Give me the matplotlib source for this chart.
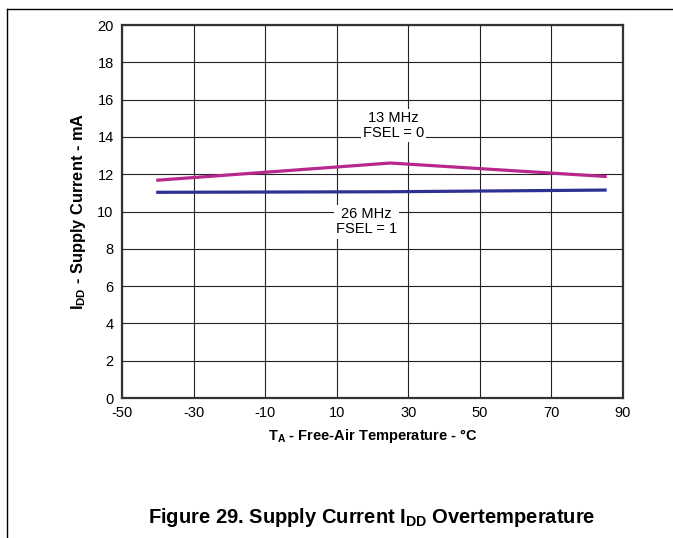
import matplotlib
matplotlib.use("Agg")
import matplotlib.pyplot as plt
from matplotlib.lines import Line2D

plt.rcParams["font.family"] = ["Liberation Sans", "DejaVu Sans"]
plt.rcParams["mathtext.fontset"] = "custom"
plt.rcParams["mathtext.rm"] = "Liberation Sans"
plt.rcParams["mathtext.bf"] = "Liberation Sans:bold"
plt.rcParams["axes.unicode_minus"] = False

# data
temp_13 = [-40, 25, 85]
idd_13 = [11.68, 12.6, 11.88]
temp_26 = [-40, 25, 85]
idd_26 = [11.03, 11.06, 11.15]
xticks = [-50, -30, -10, 10, 30, 50, 70, 90]
yticks = list(range(0, 21, 2))

fig = plt.figure(figsize=(6.73, 5.38), dpi=100)
ax = fig.add_axes([0.1813, 0.2602, 0.7444, 0.6933])

ax.plot(temp_13, idd_13, color="#B8288C", lw=2.3, zorder=3)
ax.plot(temp_26, idd_26, color="#2E3192", lw=2.3, zorder=3)

ax.set_xlim(-50, 90)
ax.set_ylim(0, 20)
ax.set_xticks(xticks)
ax.set_yticks(yticks)
ax.tick_params(length=0, labelsize=10.5, pad=6)
ax.grid(True, color="#222222", lw=0.8)
ax.set_axisbelow(True)
for s in ax.spines.values():
    s.set_linewidth(1.6)
    s.set_color("#333333")

ax.set_xlabel(r"T$_\mathbf{A}$ - Free-Air Temperature - °C", fontsize=10.5,
              fontweight="bold", labelpad=5)
ax.set_ylabel(r"I$_\mathbf{DD}$ - Supply Current - mA", fontsize=11.8,
              fontweight="bold", labelpad=7)

box = dict(boxstyle="square,pad=0.15", facecolor="white", edgecolor="none")
ax.text(25.9, 14.6, "13 MHz\nFSEL = 0", ha="center", va="center",
        fontsize=10.5, linespacing=1.1, bbox=box, zorder=4)
ax.text(18.3, 9.45, "26 MHz\nFSEL = 1", ha="center", va="center",
        fontsize=10.5, linespacing=1.1, bbox=box, zorder=4)

fig.text(0.553, 0.039, r"Figure 29. Supply Current I$_\mathbf{DD}$ Overtemperature",
         ha="center", va="center", fontsize=14.5, fontweight="bold")

# page frame lines
fig.add_artist(Line2D([7 / 673, 1], [1 - 9 / 538, 1 - 9 / 538],
                      transform=fig.transFigure, color="black", lw=1))
fig.add_artist(Line2D([7 / 673, 7 / 673], [0, 1 - 9 / 538],
                      transform=fig.transFigure, color="black", lw=1))

fig.savefig("out.png", dpi=100)
